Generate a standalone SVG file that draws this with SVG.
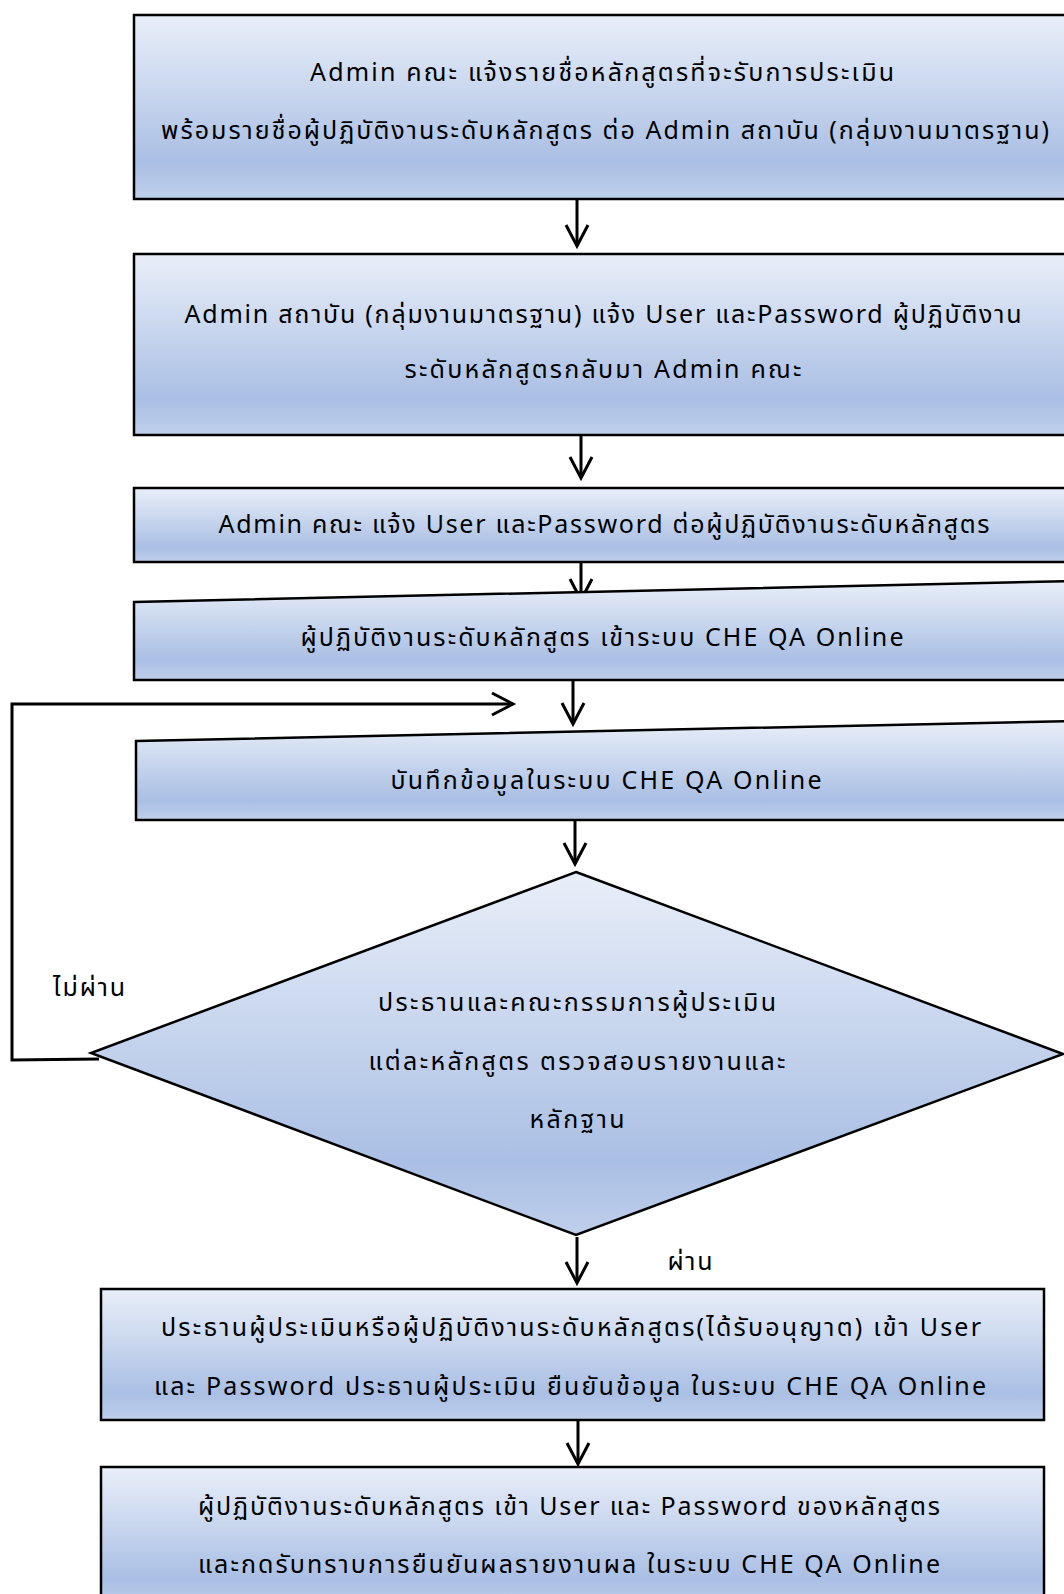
<svg xmlns="http://www.w3.org/2000/svg" width="1064" height="1594" viewBox="0 0 1064 1594">
<defs>
<linearGradient id="g" x1="0" y1="0" x2="0" y2="1">
<stop offset="0" stop-color="#e9eff9"/>
<stop offset="0.8" stop-color="#aabfe4"/>
<stop offset="1" stop-color="#bfcfeb"/>
</linearGradient>
<marker id="ah" markerUnits="userSpaceOnUse" orient="auto" overflow="visible" refX="0" refY="0" markerWidth="30" markerHeight="30">
<path d="M-21,-11 L0,0 L-21,11" fill="none" stroke="#000" stroke-width="3"/>
</marker>
<style>
.box{fill:url(#g);stroke:#000;stroke-width:2.5}
.t{font-family:"Noto Sans","Noto Sans Thai","Loma","Garuda","DejaVu Sans",sans-serif;font-size:25px;fill:#000;text-anchor:middle}
.c{fill:none;stroke:#000;stroke-width:3}
</style>
</defs>
<g id="connectors">
<line class="c" x1="577" y1="200" x2="577" y2="246" marker-end="url(#ah)"/>
<line class="c" x1="581" y1="436" x2="581" y2="478" marker-end="url(#ah)"/>
<line class="c" x1="581" y1="562" x2="581" y2="600" marker-end="url(#ah)"/>
<line class="c" x1="573" y1="680" x2="573" y2="724" marker-end="url(#ah)"/>
<polyline class="c" points="99,1059 12,1060 12,704 513,704" stroke-width="3.5" marker-end="url(#ah)"/>
<line class="c" x1="575" y1="820" x2="575" y2="864" marker-end="url(#ah)"/>
<line class="c" x1="577" y1="1237" x2="577" y2="1283" marker-end="url(#ah)"/>
<line class="c" x1="578" y1="1420" x2="578" y2="1464" marker-end="url(#ah)"/>
<text class="t" x="89" y="996" textLength="72">ไม่ผ่าน</text>
<text class="t" x="690" y="1270" textLength="45">ผ่าน</text>
</g>
<g id="n1">
<rect class="box" x="134" y="15" width="940" height="184"/>
<text class="t" x="602" y="81" textLength="584">Admin คณะ แจ้งรายชื่อหลักสูตรที่จะรับการประเมิน</text>
<text class="t" x="605" y="139" textLength="888">พร้อมรายชื่อผู้ปฏิบัติงานระดับหลักสูตร  ต่อ Admin สถาบัน (กลุ่มงานมาตรฐาน)</text>
</g>
<g id="n2">
<rect class="box" x="134" y="254" width="940" height="181"/>
<text class="t" x="603" y="323" textLength="837">Admin สถาบัน (กลุ่มงานมาตรฐาน) แจ้ง User และPassword ผู้ปฏิบัติงาน</text>
<text class="t" x="603" y="378" textLength="397">ระดับหลักสูตรกลับมา  Admin คณะ</text>
</g>
<g id="n3">
<rect class="box" x="134" y="488" width="940" height="74"/>
<text class="t" x="604" y="533" textLength="771">Admin คณะ แจ้ง User และPassword ต่อผู้ปฏิบัติงานระดับหลักสูตร</text>
</g>
<g id="n4">
<polygon class="box" points="134,602 1074,581 1074,680 134,680"/>
<text class="t" x="602" y="646" textLength="603">ผู้ปฏิบัติงานระดับหลักสูตร  เข้าระบบ  CHE QA Online</text>
</g>
<g id="n5">
<polygon class="box" points="136,741 1074,721 1074,820 136,820"/>
<text class="t" x="606" y="789" textLength="431">บันทึกข้อมูลในระบบ  CHE QA Online</text>
</g>
<g id="n6">
<polygon class="box" points="576,872 1063,1054 576,1235 91,1053"/>
<text class="t" x="577" y="1011" textLength="398">ประธานและคณะกรรมการผู้ประเมิน</text>
<text class="t" x="577" y="1070" textLength="417">แต่ละหลักสูตร  ตรวจสอบรายงานและ</text>
<text class="t" x="577" y="1128" textLength="95">หลักฐาน</text>
</g>
<g id="n7">
<rect class="box" x="101" y="1289" width="943" height="131"/>
<text class="t" x="571" y="1336" textLength="820">ประธานผู้ประเมินหรือผู้ปฏิบัติงานระดับหลักสูตร(ได้รับอนุญาต)  เข้า User</text>
<text class="t" x="570" y="1395" textLength="832">และ Password ประธานผู้ประเมิน  ยืนยันข้อมูล ในระบบ  CHE QA Online</text>
</g>
<g id="n8">
<rect class="box" x="101" y="1467" width="943" height="140"/>
<text class="t" x="569" y="1515" textLength="742">ผู้ปฏิบัติงานระดับหลักสูตร  เข้า User และ Password ของหลักสูตร</text>
<text class="t" x="569" y="1573" textLength="742">และกดรับทราบการยืนยันผลรายงานผล ในระบบ  CHE QA Online</text>
</g>
</svg>
